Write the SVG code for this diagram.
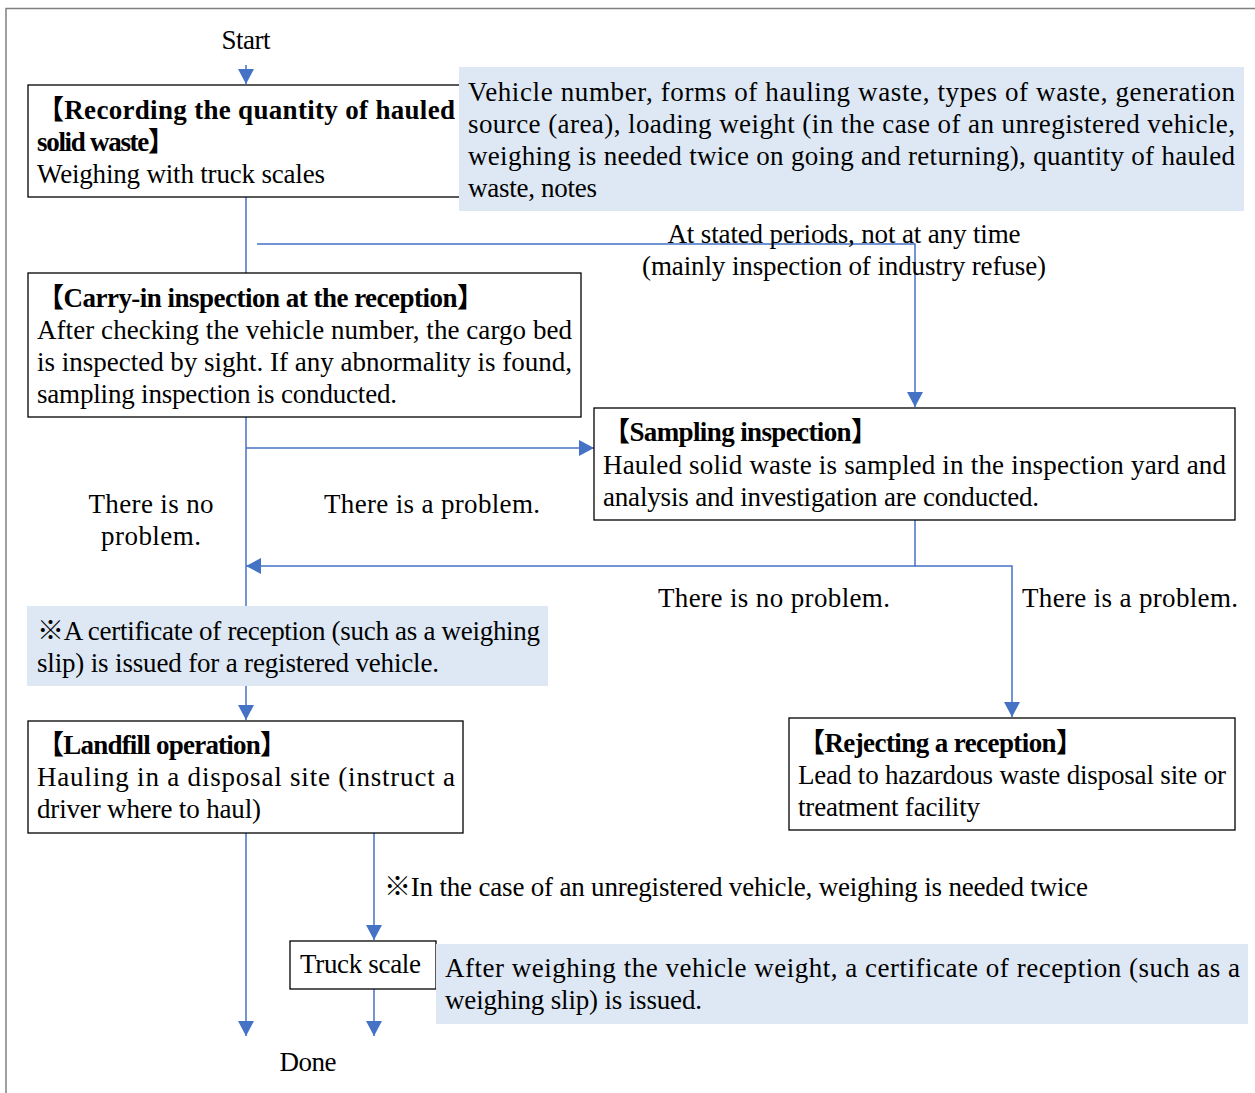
<svg xmlns="http://www.w3.org/2000/svg" width="1255" height="1093" viewBox="0 0 1255 1093">
<style>
text{font-family:"Liberation Serif","Noto Sans CJK JP",serif;font-size:27px;fill:#000}
.b{font-weight:bold}
.box{fill:#fff;stroke:#000;stroke-width:1.3}
.note{fill:#dde8f4}
.c{fill:none;stroke:#4472c4;stroke-width:1.5}
.m{text-anchor:middle}
</style>
<defs>
<marker id="ah" markerUnits="userSpaceOnUse" markerWidth="15" markerHeight="16" refX="15" refY="8" orient="auto"><path d="M0,0 L15,8 L0,16 z" fill="#4472c4"/></marker>
</defs>
<rect x="0" y="0" width="1255" height="1093" fill="#fff"/>
<rect x="6" y="8.5" width="1300" height="1200" fill="none" stroke="#808080" stroke-width="1.5"/>

<g id="connectors">
<path class="c" d="M246,65 V84" marker-end="url(#ah)"/>
<path class="c" d="M246,197 V273"/>
<path class="c" d="M257,244 H915 V407" marker-end="url(#ah)"/>
<path class="c" d="M246,417 V720" marker-end="url(#ah)"/>
<path class="c" d="M246,448 H594" marker-end="url(#ah)"/>
<path class="c" d="M915,520 V566 H246" marker-end="url(#ah)"/>
<path class="c" d="M915,566 H1012 V717" marker-end="url(#ah)"/>
<path class="c" d="M246,833 V1036" marker-end="url(#ah)"/>
<path class="c" d="M374,833 V940" marker-end="url(#ah)"/>
<path class="c" d="M374,989 V1036" marker-end="url(#ah)"/>
</g>

<g id="start"><text class="m" x="246" y="49" textLength="49" lengthAdjust="spacing">Start</text></g>

<g id="recording">
<rect class="box" x="28" y="85" width="435" height="112"/>
<text class="b" x="37" y="119" textLength="418" lengthAdjust="spacing">【Recording the quantity of hauled</text>
<text class="b" x="37" y="151" textLength="138" lengthAdjust="spacing">solid waste】</text>
<text x="37" y="183" textLength="288" lengthAdjust="spacing">Weighing with truck scales</text>
</g>

<g id="note-recording">
<rect class="note" x="459" y="67" width="785" height="144"/>
<text x="468" y="101" textLength="767" lengthAdjust="spacing">Vehicle number, forms of hauling waste, types of waste, generation</text>
<text x="468" y="133" textLength="767" lengthAdjust="spacing">source (area), loading weight (in the case of an unregistered vehicle,</text>
<text x="468" y="165" textLength="767" lengthAdjust="spacing">weighing is needed twice on going and returning), quantity of hauled</text>
<text x="468" y="197" textLength="129" lengthAdjust="spacing">waste, notes</text>
</g>

<g id="label-periods">
<text class="m" x="844" y="243" textLength="353" lengthAdjust="spacing">At stated periods, not at any time</text>
<text class="m" x="844" y="275" textLength="404" lengthAdjust="spacing">(mainly inspection of industry refuse)</text>
</g>

<g id="carry-in">
<rect class="box" x="28" y="273" width="553" height="144"/>
<text class="b" x="37" y="307" textLength="447" lengthAdjust="spacing">【Carry-in inspection at the reception】</text>
<text x="37" y="339" textLength="535" lengthAdjust="spacing">After checking the vehicle number, the cargo bed</text>
<text x="37" y="371" textLength="535" lengthAdjust="spacing">is inspected by sight. If any abnormality is found,</text>
<text x="37" y="403" textLength="360" lengthAdjust="spacing">sampling inspection is conducted.</text>
</g>

<g id="sampling">
<rect class="box" x="594" y="408" width="641" height="112"/>
<text class="b" x="603" y="441" textLength="275" lengthAdjust="spacing">【Sampling inspection】</text>
<text x="603" y="474" textLength="623" lengthAdjust="spacing">Hauled solid waste is sampled in the inspection yard and</text>
<text x="603" y="506" textLength="436" lengthAdjust="spacing">analysis and investigation are conducted.</text>
</g>

<g id="labels-carry-in">
<text class="m" x="151" y="513" textLength="125" lengthAdjust="spacing">There is no</text>
<text class="m" x="151" y="545" textLength="100" lengthAdjust="spacing">problem.</text>
<text class="m" x="432" y="513" textLength="216" lengthAdjust="spacing">There is a problem.</text>
</g>

<g id="labels-sampling">
<text class="m" x="774" y="607" textLength="232" lengthAdjust="spacing">There is no problem.</text>
<text x="1022" y="607" textLength="216" lengthAdjust="spacing">There is a problem.</text>
</g>

<g id="note-certificate">
<rect class="note" x="27" y="606" width="521" height="80"/>
<text x="37" y="640" textLength="503" lengthAdjust="spacing">※A certificate of reception (such as a weighing</text>
<text x="37" y="672" textLength="402" lengthAdjust="spacing">slip) is issued for a registered vehicle.</text>
</g>

<g id="landfill">
<rect class="box" x="28" y="721" width="435" height="112"/>
<text class="b" x="37" y="754" textLength="250" lengthAdjust="spacing">【Landfill operation】</text>
<text x="37" y="786" textLength="418" lengthAdjust="spacing">Hauling in a disposal site (instruct a</text>
<text x="37" y="818" textLength="224" lengthAdjust="spacing">driver where to haul)</text>
</g>

<g id="rejecting">
<rect class="box" x="789" y="718" width="446" height="112"/>
<text class="b" x="798" y="752" textLength="285" lengthAdjust="spacing">【Rejecting a reception】</text>
<text x="798" y="784" textLength="428" lengthAdjust="spacing">Lead to hazardous waste disposal site or</text>
<text x="798" y="816" textLength="182" lengthAdjust="spacing">treatment facility</text>
</g>

<g id="label-unregistered">
<text x="384" y="896" textLength="704" lengthAdjust="spacing">※In the case of an unregistered vehicle, weighing is needed twice</text>
</g>

<g id="truck-scale">
<rect class="box" x="290" y="941" width="146" height="48"/>
<text x="300" y="973" textLength="121" lengthAdjust="spacing">Truck scale</text>
</g>

<g id="note-truck">
<rect class="note" x="436" y="944" width="812" height="80"/>
<text x="445" y="977" textLength="795" lengthAdjust="spacing">After weighing the vehicle weight, a certificate of reception (such as a</text>
<text x="445" y="1009" textLength="257" lengthAdjust="spacing">weighing slip) is issued.</text>
</g>

<g id="done"><text class="m" x="308" y="1071" textLength="57" lengthAdjust="spacing">Done</text></g>
</svg>
